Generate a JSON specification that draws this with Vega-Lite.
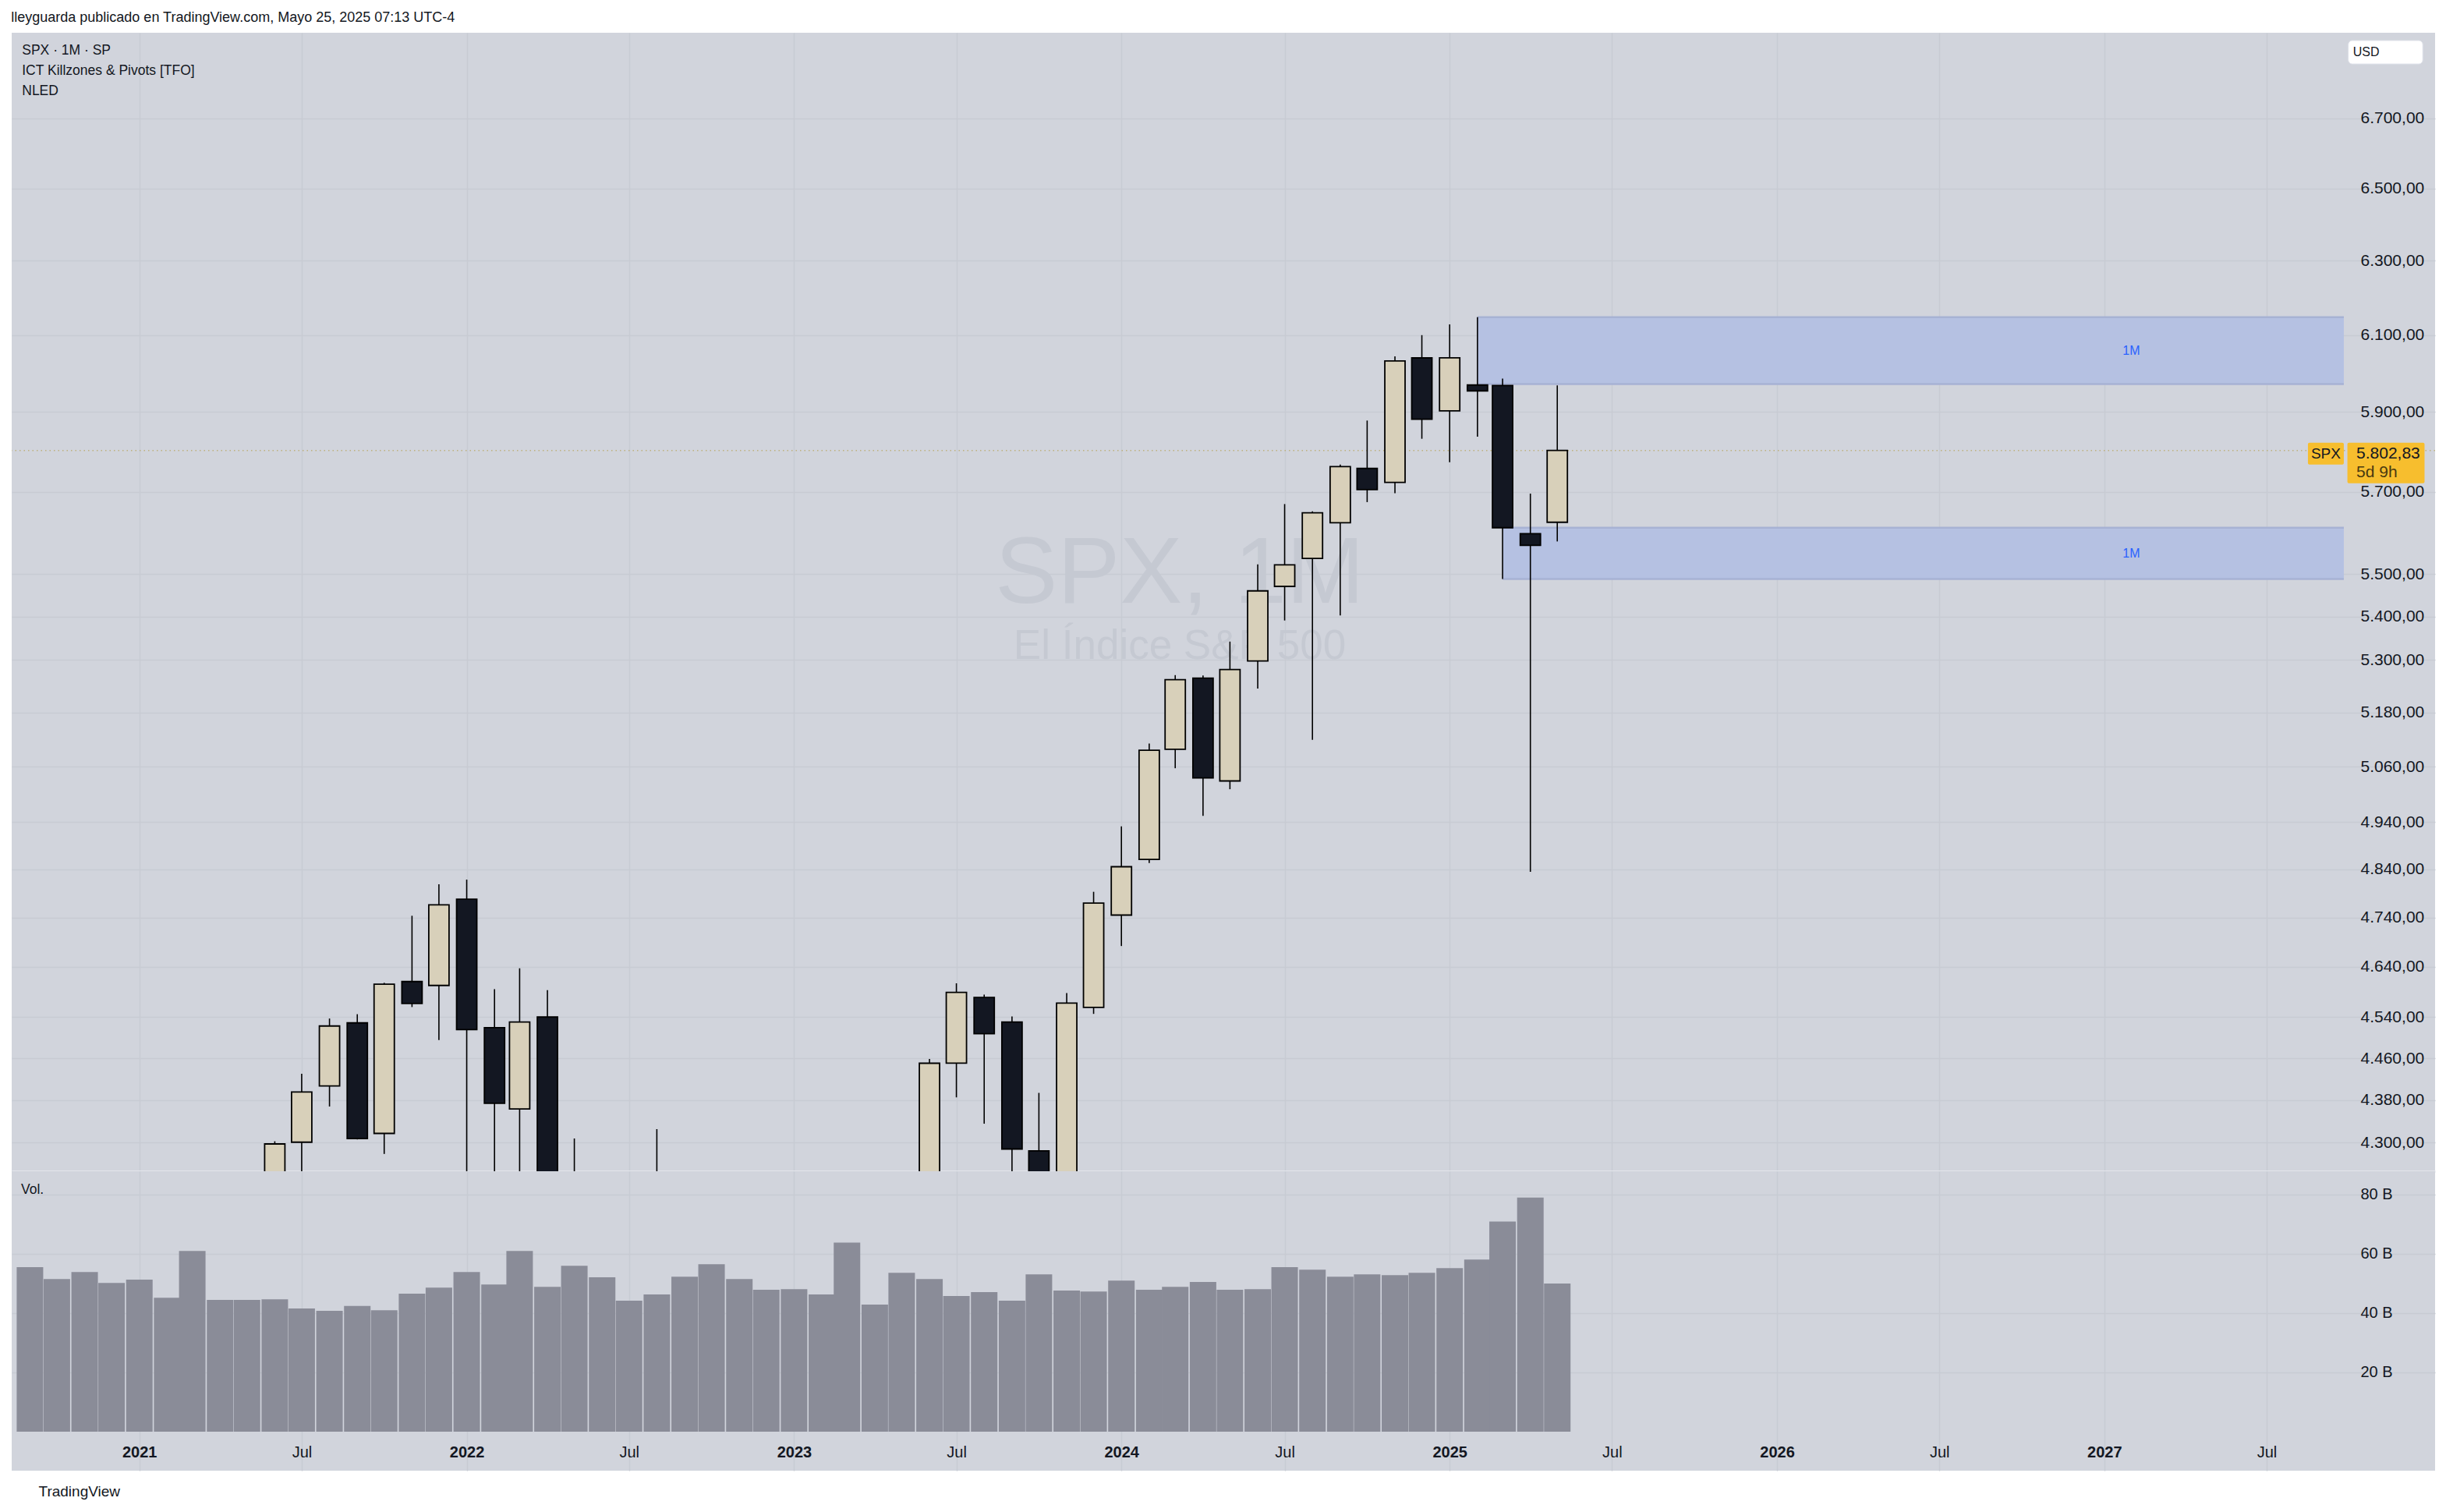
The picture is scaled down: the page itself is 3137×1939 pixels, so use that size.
{
  "$schema": "https://vega.github.io/schema/vega-lite/v6.json",
  "background": "#ffffff",
  "padding": {"left": 14, "top": 14, "right": 15, "bottom": 19},
  "title": {"text": "lleyguarda publicado en TradingView.com, Mayo 25, 2025 07:13 UTC-4", "anchor": "start", "orient": "top", "offset": -8, "baseline": "bottom", "fontSize": 18, "fontWeight": "normal", "color": "#131722", "font": "Liberation Sans"},
  "bounds": "flush",
  "spacing": 0,
  "datasets": {
    "spx": [
      {"date": "2020-09-01", "open": 3507.44, "high": 3588.11, "low": 3209.45, "close": 3363.00, "volume": 55500000000},
      {"date": "2020-10-01", "open": 3385.87, "high": 3549.85, "low": 3233.94, "close": 3269.96, "volume": 51500000000},
      {"date": "2020-11-01", "open": 3296.20, "high": 3645.99, "low": 3279.74, "close": 3621.63, "volume": 53900000000},
      {"date": "2020-12-01", "open": 3645.87, "high": 3760.20, "low": 3633.40, "close": 3756.07, "volume": 50200000000},
      {"date": "2021-01-01", "open": 3764.61, "high": 3870.90, "low": 3662.71, "close": 3714.24, "volume": 51300000000},
      {"date": "2021-02-01", "open": 3731.17, "high": 3950.43, "low": 3725.62, "close": 3811.15, "volume": 45200000000},
      {"date": "2021-03-01", "open": 3842.51, "high": 3994.41, "low": 3723.34, "close": 3972.89, "volume": 61000000000},
      {"date": "2021-04-01", "open": 3992.78, "high": 4218.78, "low": 3992.78, "close": 4181.17, "volume": 44500000000},
      {"date": "2021-05-01", "open": 4191.98, "high": 4238.04, "low": 4056.88, "close": 4204.11, "volume": 44500000000},
      {"date": "2021-06-01", "open": 4216.52, "high": 4302.43, "low": 4164.40, "close": 4297.50, "volume": 44700000000},
      {"date": "2021-07-01", "open": 4300.73, "high": 4429.97, "low": 4233.13, "close": 4395.26, "volume": 41600000000},
      {"date": "2021-08-01", "open": 4406.86, "high": 4537.36, "low": 4367.73, "close": 4522.68, "volume": 40800000000},
      {"date": "2021-09-01", "open": 4528.80, "high": 4545.85, "low": 4305.91, "close": 4307.54, "volume": 42400000000},
      {"date": "2021-10-01", "open": 4317.16, "high": 4608.08, "low": 4278.94, "close": 4605.38, "volume": 41000000000},
      {"date": "2021-11-01", "open": 4610.62, "high": 4743.83, "low": 4560.00, "close": 4567.00, "volume": 46600000000},
      {"date": "2021-12-01", "open": 4602.82, "high": 4808.93, "low": 4495.12, "close": 4766.18, "volume": 48600000000},
      {"date": "2022-01-01", "open": 4778.14, "high": 4818.62, "low": 4222.62, "close": 4515.55, "volume": 53900000000},
      {"date": "2022-02-01", "open": 4519.57, "high": 4595.31, "low": 4114.65, "close": 4373.94, "volume": 49700000000},
      {"date": "2022-03-01", "open": 4363.14, "high": 4637.30, "low": 4157.87, "close": 4530.41, "volume": 61000000000},
      {"date": "2022-04-01", "open": 4540.32, "high": 4593.45, "low": 4124.28, "close": 4131.93, "volume": 48900000000},
      {"date": "2022-05-01", "open": 4130.61, "high": 4307.66, "low": 3810.32, "close": 4132.15, "volume": 56000000000},
      {"date": "2022-06-01", "open": 4149.78, "high": 4177.51, "low": 3636.87, "close": 3785.38, "volume": 52100000000},
      {"date": "2022-07-01", "open": 3781.00, "high": 4140.15, "low": 3721.56, "close": 4130.29, "volume": 44200000000},
      {"date": "2022-08-01", "open": 4112.38, "high": 4325.28, "low": 3954.53, "close": 3955.00, "volume": 46300000000},
      {"date": "2022-09-01", "open": 3936.73, "high": 4119.28, "low": 3584.13, "close": 3585.62, "volume": 52300000000},
      {"date": "2022-10-01", "open": 3609.78, "high": 3905.42, "low": 3491.58, "close": 3871.98, "volume": 56500000000},
      {"date": "2022-11-01", "open": 3901.79, "high": 4080.11, "low": 3698.15, "close": 4080.11, "volume": 51500000000},
      {"date": "2022-12-01", "open": 4087.14, "high": 4100.96, "low": 3764.49, "close": 3839.50, "volume": 47900000000},
      {"date": "2023-01-01", "open": 3853.29, "high": 4094.21, "low": 3794.33, "close": 4076.60, "volume": 48100000000},
      {"date": "2023-02-01", "open": 4070.07, "high": 4195.44, "low": 3943.08, "close": 3970.15, "volume": 46300000000},
      {"date": "2023-03-01", "open": 3963.34, "high": 4110.75, "low": 3808.86, "close": 4109.31, "volume": 63800000000},
      {"date": "2023-04-01", "open": 4112.16, "high": 4170.06, "low": 4049.35, "close": 4169.48, "volume": 42900000000},
      {"date": "2023-05-01", "open": 4166.79, "high": 4231.10, "low": 4048.28, "close": 4179.83, "volume": 53600000000},
      {"date": "2023-06-01", "open": 4183.03, "high": 4458.48, "low": 4166.15, "close": 4450.38, "volume": 51500000000},
      {"date": "2023-07-01", "open": 4450.48, "high": 4607.07, "low": 4385.05, "close": 4588.96, "volume": 45800000000},
      {"date": "2023-08-01", "open": 4578.83, "high": 4584.62, "low": 4335.31, "close": 4507.66, "volume": 47100000000},
      {"date": "2023-09-01", "open": 4530.60, "high": 4541.25, "low": 4238.63, "close": 4288.05, "volume": 44200000000},
      {"date": "2023-10-01", "open": 4284.52, "high": 4393.57, "low": 4103.78, "close": 4193.80, "volume": 53100000000},
      {"date": "2023-11-01", "open": 4201.27, "high": 4587.64, "low": 4197.74, "close": 4567.80, "volume": 47600000000},
      {"date": "2023-12-01", "open": 4559.43, "high": 4793.30, "low": 4546.50, "close": 4769.83, "volume": 47300000000},
      {"date": "2024-01-01", "open": 4745.20, "high": 4931.09, "low": 4682.11, "close": 4845.65, "volume": 51000000000},
      {"date": "2024-02-01", "open": 4861.11, "high": 5111.06, "low": 4853.52, "close": 5096.27, "volume": 47900000000},
      {"date": "2024-03-01", "open": 5098.51, "high": 5264.85, "low": 5056.82, "close": 5254.35, "volume": 48900000000},
      {"date": "2024-04-01", "open": 5257.97, "high": 5263.95, "low": 4953.56, "close": 5035.69, "volume": 50500000000},
      {"date": "2024-05-01", "open": 5029.03, "high": 5341.88, "low": 5011.05, "close": 5277.51, "volume": 47900000000},
      {"date": "2024-06-01", "open": 5297.15, "high": 5523.64, "low": 5234.32, "close": 5460.48, "volume": 48100000000},
      {"date": "2024-07-01", "open": 5471.08, "high": 5669.67, "low": 5390.95, "close": 5522.30, "volume": 55500000000},
      {"date": "2024-08-01", "open": 5537.84, "high": 5651.62, "low": 5119.26, "close": 5648.40, "volume": 54700000000},
      {"date": "2024-09-01", "open": 5623.89, "high": 5767.37, "low": 5402.62, "close": 5762.48, "volume": 52300000000},
      {"date": "2024-10-01", "open": 5757.73, "high": 5878.46, "low": 5674.49, "close": 5705.45, "volume": 53100000000},
      {"date": "2024-11-01", "open": 5723.22, "high": 6044.17, "low": 5696.51, "close": 6032.38, "volume": 52800000000},
      {"date": "2024-12-01", "open": 6040.11, "high": 6099.97, "low": 5832.30, "close": 5881.63, "volume": 53600000000},
      {"date": "2025-01-01", "open": 5903.26, "high": 6128.18, "low": 5773.31, "close": 6040.53, "volume": 55200000000},
      {"date": "2025-02-01", "open": 5969.65, "high": 6147.43, "low": 5837.66, "close": 5954.50, "volume": 58100000000},
      {"date": "2025-03-01", "open": 5968.33, "high": 5986.09, "low": 5488.73, "close": 5611.85, "volume": 70900000000},
      {"date": "2025-04-01", "open": 5597.53, "high": 5695.31, "low": 4835.04, "close": 5569.06, "volume": 79000000000},
      {"date": "2025-05-01", "open": 5625.14, "high": 5968.61, "low": 5578.64, "close": 5802.83, "volume": 50000000000}
    ],
    "zones": [
      {"start": "2025-02-01", "end": "2027-09-25", "top": 6147.43, "bottom": 5972.0, "label": "1M", "label_date": "2027-01-31", "label_price": 6059},
      {"start": "2025-03-01", "end": "2027-09-25", "top": 5611.85, "bottom": 5488.73, "label": "1M", "label_date": "2027-01-31", "label_price": 5550}
    ],
    "labelboxes": [
      {"box": "SPX", "start": "2027-08-16", "end": "2027-09-25", "top": 5822.1, "bottom": 5767.3},
      {"box": "price", "start": "2027-09-29", "end": "2027-12-24", "top": 5822.1, "bottom": 5720.8}
    ]
  },
  "vconcat": [
    {
      "width": 3108,
      "height": 1460,
      "title": {"text": ["SPX · 1M · SP", "ICT Killzones & Pivots [TFO]", "NLED"], "anchor": "start", "orient": "top", "offset": -83, "baseline": "top", "dx": 14, "fontSize": 17.5, "fontWeight": "normal", "lineHeight": 26, "color": "#131722", "font": "Liberation Sans"},
      "layer": [
        {
          "data": {"values": [{"text": "SPX, 1M", "date": "2024-03-06", "price": 5498}]},
          "mark": {"type": "text", "font": "Liberation Sans", "fontSize": 120, "color": "#C5C9D2", "align": "center", "baseline": "middle"},
          "encoding": {
            "x": {"field": "date", "type": "temporal", "title": null,
              "scale": {"type": "utc", "nice": false, "domain": [{"year": 2020, "month": 8, "date": 16, "utc": true}, {"year": 2027, "month": 12, "date": 31, "hours": 10, "utc": true}]},
              "axis": {"orient": "bottom", "labels": false, "ticks": false, "domain": true, "domainColor": "#E3E5EB", "domainWidth": 3, "grid": true, "gridColor": "#C8CBD3", "gridWidth": 1.5, "title": null,
                "values": [{"year": 2021, "month": 1, "date": 1, "utc": true}, {"year": 2021, "month": 7, "date": 1, "utc": true}, {"year": 2022, "month": 1, "date": 1, "utc": true}, {"year": 2022, "month": 7, "date": 1, "utc": true}, {"year": 2023, "month": 1, "date": 1, "utc": true}, {"year": 2023, "month": 7, "date": 1, "utc": true}, {"year": 2024, "month": 1, "date": 1, "utc": true}, {"year": 2024, "month": 7, "date": 1, "utc": true}, {"year": 2025, "month": 1, "date": 1, "utc": true}, {"year": 2025, "month": 7, "date": 1, "utc": true}, {"year": 2026, "month": 1, "date": 1, "utc": true}, {"year": 2026, "month": 7, "date": 1, "utc": true}, {"year": 2027, "month": 1, "date": 1, "utc": true}, {"year": 2027, "month": 7, "date": 1, "utc": true}]}},
            "y": {"field": "price", "type": "quantitative", "title": null,
              "scale": {"type": "log", "domain": [4247.0, 6953.4], "nice": false, "zero": false},
              "axis": {"orient": "right", "offset": -112, "labelPadding": 16, "labelAlign": "left", "labelBaseline": "middle", "labelFontSize": 21, "labelFont": "Liberation Sans", "labelColor": "#131722", "ticks": false, "domain": false, "grid": true, "gridColor": "#C8CBD3", "gridWidth": 1.5, "title": null,
                "values": [4300, 4380, 4460, 4540, 4640, 4740, 4840, 4940, 5060, 5180, 5300, 5400, 5500, 5700, 5900, 6100, 6300, 6500, 6700],
                "labelExpr": "replace(format(datum.value, ',.0f'), ',', '.') + ',00'"}},
            "text": {"field": "text"}
          }
        },
        {
          "data": {"values": [{"text": "El Índice S&P 500", "date": "2024-03-06", "price": 5330}]},
          "mark": {"type": "text", "font": "Liberation Sans", "fontSize": 53, "color": "#C5C9D2", "align": "center", "baseline": "middle"},
          "encoding": {
            "x": {"field": "date", "type": "temporal"},
            "y": {"field": "price", "type": "quantitative"},
            "text": {"field": "text"}
          }
        },
        {
          "data": {"name": "zones"},
          "mark": {"type": "rect", "color": "#B5C1E2", "clip": true},
          "encoding": {
            "x": {"field": "start", "type": "temporal"},
            "x2": {"field": "end"},
            "y": {"field": "top", "type": "quantitative"},
            "y2": {"field": "bottom"}
          }
        },
        {
          "data": {"name": "zones"},
          "mark": {"type": "rule", "color": "#A7B2D4", "strokeWidth": 2.5, "clip": true},
          "encoding": {
            "x": {"field": "start", "type": "temporal"},
            "x2": {"field": "end"},
            "y": {"field": "top", "type": "quantitative"}
          }
        },
        {
          "data": {"name": "zones"},
          "mark": {"type": "rule", "color": "#A7B2D4", "strokeWidth": 2.5, "clip": true},
          "encoding": {
            "x": {"field": "start", "type": "temporal"},
            "x2": {"field": "end"},
            "y": {"field": "bottom", "type": "quantitative"}
          }
        },
        {
          "data": {"values": [{"price": 5802.83}]},
          "mark": {"type": "rule", "color": "#B9A767", "strokeWidth": 1.5, "strokeDash": [1.5, 4], "opacity": 0.8},
          "encoding": {
            "y": {"field": "price", "type": "quantitative"}
          }
        },
        {
          "data": {"name": "spx"},
          "mark": {"type": "rule", "color": "#000000", "strokeWidth": 1.6, "clip": true},
          "encoding": {
            "x": {"field": "date", "type": "temporal"},
            "y": {"field": "low", "type": "quantitative"},
            "y2": {"field": "high"}
          }
        },
        {
          "data": {"name": "spx"},
          "mark": {"type": "bar", "size": 26, "stroke": "#000000", "strokeWidth": 1.8, "clip": true},
          "encoding": {
            "x": {"field": "date", "type": "temporal"},
            "y": {"field": "open", "type": "quantitative"},
            "y2": {"field": "close"},
            "fill": {"condition": {"test": "datum.close >= datum.open", "value": "#D8D0BA"}, "value": "#131722"}
          }
        },
        {
          "data": {"name": "zones"},
          "mark": {"type": "text", "color": "#2962FF", "fontSize": 16, "font": "Liberation Sans", "align": "center", "baseline": "middle"},
          "encoding": {
            "x": {"field": "label_date", "type": "temporal"},
            "y": {"field": "label_price", "type": "quantitative"},
            "text": {"field": "label"}
          }
        },
        {
          "data": {"name": "labelboxes"},
          "mark": {"type": "rect", "color": "#F7BE2E", "cornerRadius": 2},
          "encoding": {
            "x": {"field": "start", "type": "temporal"},
            "x2": {"field": "end"},
            "y": {"field": "top", "type": "quantitative"},
            "y2": {"field": "bottom"}
          }
        },
        {
          "data": {"values": [{"date": "2027-09-05", "price": 5802.83, "text": "SPX"}]},
          "mark": {"type": "text", "fontSize": 19, "font": "Liberation Sans", "color": "#131722", "align": "center", "baseline": "middle", "yOffset": 4},
          "encoding": {
            "x": {"field": "date", "type": "temporal"},
            "y": {"field": "price", "type": "quantitative"},
            "text": {"field": "text"}
          }
        },
        {
          "data": {"values": [{"date": "2027-10-09", "price": 5802.83, "text": "5.802,83"}]},
          "mark": {"type": "text", "fontSize": 21, "font": "Liberation Sans", "color": "#131722", "align": "left", "baseline": "middle", "yOffset": 4},
          "encoding": {
            "x": {"field": "date", "type": "temporal"},
            "y": {"field": "price", "type": "quantitative"},
            "text": {"field": "text"}
          }
        },
        {
          "data": {"values": [{"date": "2027-10-09", "price": 5802.83, "text": "5d 9h"}]},
          "mark": {"type": "text", "fontSize": 21, "font": "Liberation Sans", "color": "#4A3A10", "align": "left", "baseline": "middle", "yOffset": 28},
          "encoding": {
            "x": {"field": "date", "type": "temporal"},
            "y": {"field": "price", "type": "quantitative"},
            "text": {"field": "text"}
          }
        },
        {
          "data": {"values": [{"start": "2027-09-30", "end": "2027-12-22", "top": 6930.0, "bottom": 6860.1}]},
          "mark": {"type": "rect", "color": "#FFFFFF", "stroke": "#E0E3EB", "strokeWidth": 1, "cornerRadius": 5},
          "encoding": {
            "x": {"field": "start", "type": "temporal"},
            "x2": {"field": "end"},
            "y": {"field": "top", "type": "quantitative"},
            "y2": {"field": "bottom"}
          }
        },
        {
          "data": {"values": [{"date": "2027-10-20", "price": 6895, "text": "USD"}]},
          "mark": {"type": "text", "fontSize": 16, "font": "Liberation Sans", "color": "#131722", "align": "center", "baseline": "middle"},
          "encoding": {
            "x": {"field": "date", "type": "temporal"},
            "y": {"field": "price", "type": "quantitative"},
            "text": {"field": "text"}
          }
        }
      ]
    },
    {
      "width": 3108,
      "height": 384,
      "title": {"text": "Vol.", "anchor": "start", "orient": "top", "offset": -32, "baseline": "top", "dx": 12, "fontSize": 17.5, "fontWeight": "normal", "color": "#131722", "font": "Liberation Sans"},
      "data": {"name": "spx"},
      "mark": {"type": "bar", "size": 34, "color": "#8A8C98"},
      "encoding": {
        "x": {"field": "date", "type": "temporal",
          "scale": {"type": "utc", "nice": false, "domain": [{"year": 2020, "month": 8, "date": 16, "utc": true}, {"year": 2027, "month": 12, "date": 31, "hours": 10, "utc": true}]},
          "axis": {"orient": "bottom", "offset": -48, "ticks": false, "domain": false, "grid": true, "gridColor": "#C8CBD3", "gridWidth": 1.5, "labelPadding": 14, "labelFontSize": 20, "labelFont": "Liberation Sans", "labelColor": "#131722",
            "labelFontWeight": {"condition": {"test": "utcmonth(datum.value) == 0", "value": "bold"}, "value": "normal"},
            "labelExpr": "utcmonth(datum.value) == 0 ? utcFormat(datum.value, '%Y') : 'Jul'",
            "values": [{"year": 2021, "month": 1, "date": 1, "utc": true}, {"year": 2021, "month": 7, "date": 1, "utc": true}, {"year": 2022, "month": 1, "date": 1, "utc": true}, {"year": 2022, "month": 7, "date": 1, "utc": true}, {"year": 2023, "month": 1, "date": 1, "utc": true}, {"year": 2023, "month": 7, "date": 1, "utc": true}, {"year": 2024, "month": 1, "date": 1, "utc": true}, {"year": 2024, "month": 7, "date": 1, "utc": true}, {"year": 2025, "month": 1, "date": 1, "utc": true}, {"year": 2025, "month": 7, "date": 1, "utc": true}, {"year": 2026, "month": 1, "date": 1, "utc": true}, {"year": 2026, "month": 7, "date": 1, "utc": true}, {"year": 2027, "month": 1, "date": 1, "utc": true}, {"year": 2027, "month": 7, "date": 1, "utc": true}],
            "title": "TradingView", "titleAnchor": "start", "titleAlign": "left", "titleBaseline": "middle", "titleX": 34, "titleY": 74, "titleFontSize": 19, "titleFontWeight": "normal", "titleFont": "Liberation Sans", "titleColor": "#131722"}},
        "y": {"field": "volume", "type": "quantitative", "title": null,
          "scale": {"domain": [-13160000000, 87890000000], "nice": false, "zero": false},
          "axis": {"orient": "right", "offset": -112, "labelPadding": 16, "labelAlign": "left", "labelBaseline": "middle", "labelFontSize": 20, "labelFont": "Liberation Sans", "labelColor": "#131722", "ticks": false, "domain": false, "grid": true, "gridColor": "#C8CBD3", "gridWidth": 1.5, "title": null,
            "values": [20000000000, 40000000000, 60000000000, 80000000000],
            "labelExpr": "format(datum.value / 1e9, 'd') + ' B'"}},
        "y2": {"datum": 0}
      }
    }
  ],
  "config": {
    "font": "Liberation Sans",
    "view": {"stroke": null, "fill": "#D1D4DC"},
    "concat": {"spacing": 0}
  }
}
